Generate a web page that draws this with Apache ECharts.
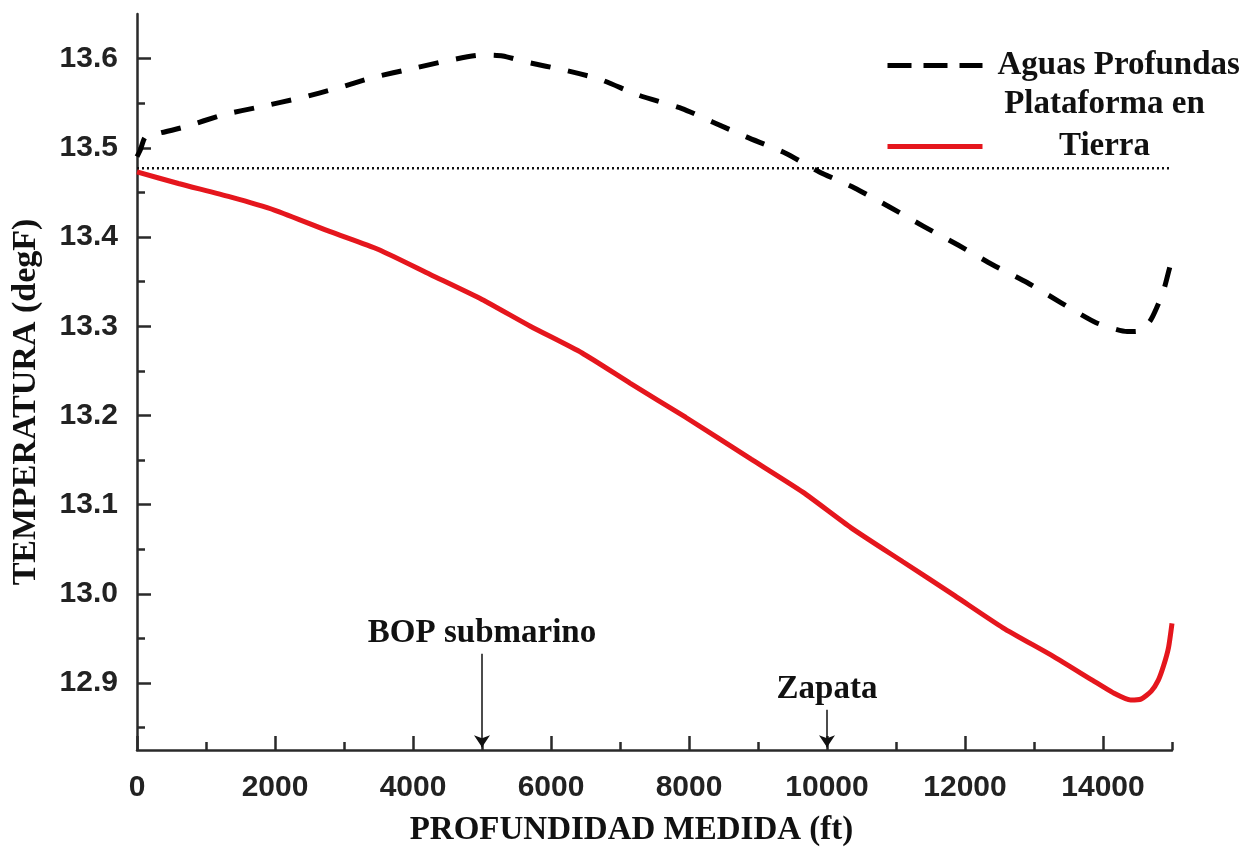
<!DOCTYPE html>
<html>
<head>
<meta charset="utf-8">
<script src="https://cdn.jsdelivr.net/npm/echarts@6/dist/echarts.min.js"></script>
<style>
html,body{margin:0;padding:0;background:#fff;}
#chart{width:1252px;height:852px;}
</style>
</head>
<body>
<div id="chart"></div>
<script>
// ---- data ----
const depthDeep = [0, 50, 120, 300, 670, 1250, 1790, 2370, 2910, 3430, 4000, 4520, 5000, 5300, 5650, 6200, 6700, 7270, 7900, 8340, 8840, 9400, 9890, 10400, 10900, 11400, 11900, 12400, 12900, 13400, 13900, 14350, 14550, 14700, 14870, 14970, 15000];
const tempDeep  = [13.490, 13.498, 13.512, 13.516, 13.523, 13.537, 13.546, 13.556, 13.567, 13.579, 13.589, 13.598, 13.604, 13.603, 13.596, 13.587, 13.577, 13.559, 13.544, 13.529, 13.512, 13.494, 13.473, 13.455, 13.434, 13.412, 13.391, 13.369, 13.349, 13.326, 13.304, 13.294, 13.295, 13.308, 13.338, 13.367, 13.377];

const depthLand = [0, 600, 1350, 2000, 2800, 3500, 4250, 5000, 5700, 6450, 7150, 7950, 8900, 9650, 10350, 11100, 11850, 12550, 13280, 13850, 14150, 14400, 14550, 14700, 14800, 14880, 14950, 15000];
const tempLand  = [13.473, 13.460, 13.445, 13.430, 13.406, 13.386, 13.358, 13.330, 13.300, 13.270, 13.236, 13.198, 13.151, 13.114, 13.074, 13.036, 12.998, 12.962, 12.930, 12.903, 12.889, 12.881, 12.882, 12.891, 12.903, 12.920, 12.940, 12.967];

const refDepth = [0, 15000];
const refTemp  = [13.477, 13.477];

const seriesNames = ['Aguas Profundas', 'Plataforma en Tierra'];
const xMajorTicks = [0, 2000, 4000, 6000, 8000, 10000, 12000, 14000];
const xMinorTicks = [1000, 3000, 5000, 7000, 9000, 11000, 13000, 15000];
const yMajorTicks = [12.9, 13.0, 13.1, 13.2, 13.3, 13.4, 13.5, 13.6];
const yMinorTicks = [12.85, 12.95, 13.05, 13.15, 13.25, 13.35, 13.45, 13.55];

const annotations = [
  { name: 'BOP submarino', depth: 5000, top: 12.933 },
  { name: 'Zapata', depth: 10000, top: 12.870 }
];
const xRange = [0, 15000];
const yRange = [12.825, 13.65];
const xTitle = 'PROFUNDIDAD MEDIDA (ft)';
const yTitle = 'TEMPERATURA (degF)';

// ---- chart ----
const zip = (a, b) => a.map((v, i) => [v, b[i]]);
const serif = 'Liberation Serif, Times New Roman, serif';
const sans = 'Liberation Sans, Arial, sans-serif';
const axisColor = '#2a2a2a';

const chart = echarts.init(document.getElementById('chart'), null, { renderer: 'canvas' });

const legendCommon = {
  left: 880,
  itemWidth: 95, itemHeight: 14,
  selectedMode: false,
  itemStyle: { opacity: 0, borderWidth: 0 },
  lineStyle: { width: 5 }
};

const option = {
  animation: false,
  backgroundColor: '#fff',
  grid: { left: 137, right: 80, top: 14, bottom: 101, containLabel: false },
  legend: [
    Object.assign({}, legendCommon, {
      data: [seriesNames[0]],
      top: 44,
      lineStyle: { width: 5, type: [24, 12], cap: 'butt' },
      textStyle: { fontFamily: serif, fontWeight: 'bold', fontSize: 33, color: '#111', padding: [0, 0, 0, 10] }
    }),
    Object.assign({}, legendCommon, {
      data: [seriesNames[1]],
      top: 83,
      formatter: () => '{c|Plataforma en}\n{c|Tierra}\n{c| }',
      textStyle: {
        fontFamily: serif, fontWeight: 'bold', fontSize: 33, color: '#111', padding: [0, 0, 0, 2],
        rich: { c: { fontFamily: serif, fontWeight: 'bold', fontSize: 33, color: '#111', width: 230, align: 'center', lineHeight: 42 } }
      }
    })
  ],
  xAxis: [
    {
      type: 'value', min: xRange[0], max: xRange[1], position: 'bottom',
      name: xTitle, nameLocation: 'middle', nameGap: 64,
      nameTextStyle: { fontFamily: serif, fontWeight: 'bold', fontSize: 33, color: '#111', padding: [0, 46, 0, 0] },
      axisLine: { show: true, onZero: false, lineStyle: { color: axisColor, width: 2.5 } },
      axisTick: { show: true, inside: true, length: 14, customValues: xMajorTicks, lineStyle: { color: axisColor, width: 2.5 } },
      axisLabel: { customValues: xMajorTicks, formatter: v => String(v), margin: 23, fontFamily: sans, fontWeight: 'bold', fontSize: 30, color: '#222' },
      splitLine: { show: false }
    },
    {
      type: 'value', min: xRange[0], max: xRange[1], position: 'bottom', gridIndex: 0,
      axisLine: { show: false },
      axisTick: { show: true, inside: true, length: 8, customValues: xMinorTicks, lineStyle: { color: axisColor, width: 2.5 } },
      axisLabel: { show: false },
      splitLine: { show: false }
    }
  ],
  yAxis: [
    {
      type: 'value', min: yRange[0], max: yRange[1], position: 'left',
      name: yTitle, nameLocation: 'middle', nameGap: 94, nameRotate: 90,
      nameTextStyle: { fontFamily: serif, fontWeight: 'bold', fontSize: 34, color: '#111', padding: [0, 40, 0, 0] },
      axisLine: { show: true, onZero: false, lineStyle: { color: axisColor, width: 2.5 } },
      axisTick: { show: true, inside: true, length: 14, customValues: yMajorTicks, lineStyle: { color: axisColor, width: 2.5 } },
      axisLabel: { customValues: yMajorTicks, margin: 19, formatter: v => Number(v).toFixed(1), fontFamily: sans, fontWeight: 'bold', fontSize: 30, color: '#222' },
      splitLine: { show: false }
    },
    {
      type: 'value', min: yRange[0], max: yRange[1], position: 'left', gridIndex: 0,
      axisLine: { show: false },
      axisTick: { show: true, inside: true, length: 8, customValues: yMinorTicks, lineStyle: { color: axisColor, width: 2.5 } },
      axisLabel: { show: false },
      splitLine: { show: false }
    }
  ],
  series: [
    {
      name: seriesNames[0], type: 'line', data: zip(depthDeep, tempDeep),
      symbol: 'none', smooth: 0.2,
      itemStyle: { color: '#000' },
      lineStyle: { color: '#000', width: 5, type: [20, 18], cap: 'butt', join: 'miter' },
      z: 3
    },
    {
      name: seriesNames[1], type: 'line', data: zip(depthLand, tempLand),
      symbol: 'none', smooth: 0.2,
      itemStyle: { color: '#e5161d' },
      lineStyle: { color: '#e5161d', width: 5 },
      z: 4
    },
    {
      name: 'ref', type: 'line', data: zip(refDepth, refTemp),
      symbol: 'none',
      lineStyle: { color: '#111', width: 2.5, type: [2, 3], cap: 'butt' },
      z: 2,
      markLine: {
        silent: true,
        symbol: ['none', 'arrow'],
        symbolSize: 12,
        lineStyle: { color: '#111', width: 1.5, type: 'solid' },
        label: {
          show: true, position: 'start', distance: 4,
          formatter: p => p.name,
          fontFamily: serif, fontWeight: 'bold', fontSize: 33, color: '#111'
        },
        data: annotations.map(a => [
          { name: a.name, coord: [a.depth, a.top] },
          { coord: [a.depth, yRange[0] + 0.003] }
        ])
      }
    }
  ]
};
chart.setOption(option);
</script>
</body>
</html>
